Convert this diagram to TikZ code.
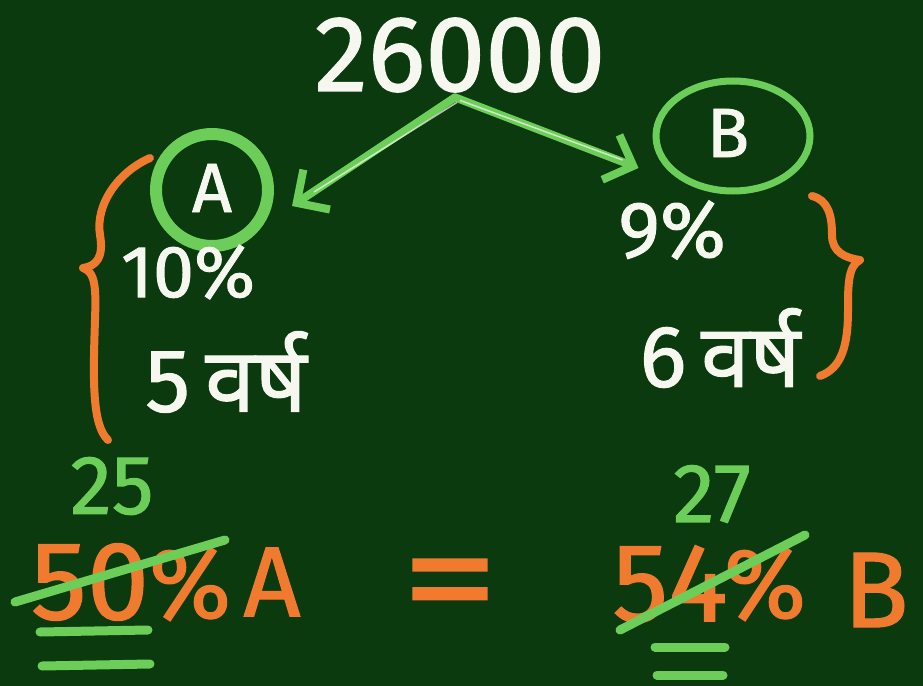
\documentclass[tikz,border=0pt]{standalone}
\usepackage{fontspec}
\setmainfont{Fira Sans}[FakeBold=1.2]
\newfontfamily\devfont[Script=Devanagari,FakeBold=1.2]{Noto Sans}
\usetikzlibrary{arrows.meta,shapes.geometric,calc}
\definecolor{board}{RGB}{10,58,14}
\definecolor{chalkgreen}{RGB}{108,206,88}
\definecolor{chalkorange}{RGB}{240,122,46}
\definecolor{chalkwhite}{RGB}{246,248,240}
\tikzset{
  wt/.style={text=chalkwhite, inner sep=0pt},
  ot/.style={text=chalkorange, inner sep=0pt},
  gt/.style={text=chalkgreen, inner sep=0pt},
  gline/.style={draw=chalkgreen, line width=9bp, line cap=round, line join=round},
  oline/.style={draw=chalkorange, line width=8bp, line cap=round, line join=round},
  arrowline/.style={draw=chalkgreen, line width=8bp, line cap=round, line join=round,
    -{Straight Barb[length=24bp,width=48bp,line width=8bp]}},
}
\begin{document}
\begin{tikzpicture}[x=1bp,y=-1bp]
\fill[board] (0,0) rectangle (923,686);
\useasboundingbox (0,0) rectangle (923,686);

% top amount
\node[wt,font=\fontsize{108}{110}\selectfont] (total) at (460,55) {26000};

% circled A
\node[wt,font=\fontsize{70}{72}\selectfont] (lettA) at (212,188) {A};
\node[circle, draw=chalkgreen, line width=12bp, minimum size=112bp] (cA) at (212,190) {};
% circled B
\node[wt,font=\fontsize{70}{72}\selectfont] (lettB) at (728,133) {B};
\node[ellipse, draw=chalkgreen, line width=7bp, minimum width=154bp, minimum height=110bp] (cB) at (733,136) {};

% arrows
\coordinate (src) at ($(total.south)+(-5,5)$);
\draw[arrowline] (src) -- ($(cA.east)+(18,16)$);
\draw[arrowline] (src) -- ($(cB.west)+(-14,32)$);
\draw[draw=chalkwhite, line width=1.5bp, opacity=0.7] ($(src)+(2,5)$) -- ($(cA.east)+(40,2)$);
\draw[draw=chalkwhite, line width=1.5bp, opacity=0.7] ($(src)+(5,3)$) -- ($(cB.west)+(-30,24)$);

% A details
\node[wt,font=\fontsize{74}{76}\selectfont] (pA) at (188,272) {10\%};
\node[wt,font=\fontsize{90}{92}\selectfont] (yA) at (226,372) {5\,{\devfont वर्ष}};
% B details
\node[wt,font=\fontsize{80}{82}\selectfont] (pB) at (672,230) {9\%};
\node[wt,font=\fontsize{88}{90}\selectfont] (yB) at (720,348) {6\,{\devfont वर्ष}};

% braces
\draw[oline] (150,158) .. controls (118,172) and (95,205) .. (100,235)
  .. controls (104,258) and (96,266) .. (83,268)
  .. controls (96,272) and (96,290) .. (95,320)
  .. controls (93,380) and (92,425) .. (108,440);
\draw[oline] (812,196) .. controls (828,200) and (832,215) .. (832,235)
  .. controls (832,252) and (845,258) .. (860,260)
  .. controls (848,266) and (848,285) .. (848,310)
  .. controls (848,345) and (842,368) .. (820,376);

% bottom equation
\node[ot,font=\fontsize{112}{114}\selectfont] (n50) at (90,582) {50};
\node[ot,font=\fontsize{100}{102}\selectfont] (pc1) at (190,584) {\%};
\node[ot,font=\fontsize{100}{102}\selectfont] (lA) at (272,582) {A};
\node[ot,font=\fontsize{150}{152}\selectfont, xscale=1.3] (eq) at (450,594) {=};
\node[ot,font=\fontsize{112}{114}\selectfont] (n54) at (670,584) {54};
\node[ot,font=\fontsize{100}{102}\selectfont] (pc2) at (765,584) {\%};
\node[ot,font=\fontsize{108}{110}\selectfont] (lB) at (876,590) {B};

\node[gt,font=\fontsize{84}{86}\selectfont] (n25) at (112,486) {25};
\node[gt,font=\fontsize{84}{86}\selectfont] (n27) at (712,494) {27};

% strike-throughs
\draw[gline, line width=9bp] ($(n50.center)+(-75,20)$) -- ($(n50.center)+(135,-42)$);
\draw[gline, line width=9bp] ($(n54.center)+(-50,46)$) -- ($(n54.center)+(135,-49)$);
% double underlines
\draw[gline] ($(n50.center)+(-50,50)$) -- ($(n50.center)+(58,48)$);
\draw[gline] ($(n50.center)+(-48,84)$) -- ($(n50.center)+(60,82)$);
\draw[gline] ($(n54.center)+(-15,63)$) -- ($(n54.center)+(55,63)$);
\draw[gline] ($(n54.center)+(-13,91)$) -- ($(n54.center)+(53,91)$);
\end{tikzpicture}
\end{document}
